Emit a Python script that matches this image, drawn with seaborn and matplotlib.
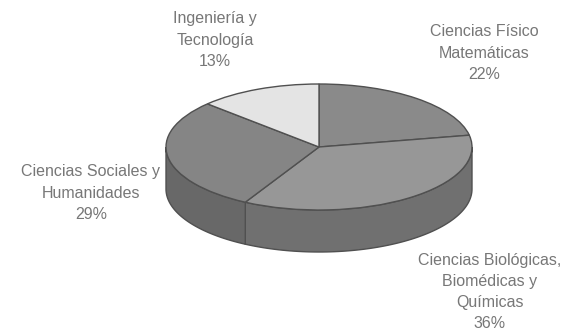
import numpy as np
import matplotlib
matplotlib.use("Agg")
import matplotlib.pyplot as plt
from matplotlib.patches import Polygon
from matplotlib.transforms import Affine2D
import seaborn as sns

# Distribution by area (percent), clockwise from 12 o'clock
categories = [
    "Ciencias Físico\nMatemáticas",
    "Ciencias Biológicas,\nBiomédicas y\nQuímicas",
    "Ciencias Sociales y\nHumanidades",
    "Ingeniería y\nTecnología",
]
values = [22, 36, 29, 13]

top_colors = ["#8a8a8a", "#979797", "#858585", "#e4e4e4"]
side_colors = ["#6e6e6e", "#707070", "#686868", "#b8b8b8"]
edge_color = "#505050"
text_color = "#777777"

# label anchor points (figure pixels, y downward)
label_pos = [(484, 53), (490, 292), (91, 193), (215, 40)]

sns.set_theme(style="white")
plt.rcParams["font.family"] = ["Liberation Sans", "DejaVu Sans"]

W, H = 569, 331
fig = plt.figure(figsize=(W / 100, H / 100), dpi=100)
ax = fig.add_axes([0, 0, 1, 1])

# pie geometry in pixel space
cx, cy = 319, H - 147
rx, ry = 153, 63
depth = 42

# top face: a regular pie squashed into an ellipse
wedges, _ = ax.pie(values, startangle=90, counterclock=False, center=(cx, cy),
                   radius=rx, colors=top_colors, frame=True,
                   wedgeprops=dict(edgecolor=edge_color, linewidth=1.0))
ax.set_xlim(0, W)
ax.set_ylim(0, H)
ax.set_aspect("auto")
ax.axis("off")
squash = Affine2D().translate(-cx, -cy).scale(1, ry / rx).translate(cx, cy)
for w in wedges:
    w.set_transform(squash + ax.transData)
    w.set_zorder(3)

# side walls: visible front half of each slice
fracs = np.array(values) / np.sum(values)
starts = 90 - 360 * np.concatenate([[0], np.cumsum(fracs)[:-1]])
ends = 90 - 360 * np.cumsum(fracs)
for a0, a1, col in zip(starts, ends, side_colors):
    for shift in (0, -360, 360):
        h, l = a0 + shift, a1 + shift
        seg_hi = min(h, 0)
        seg_lo = max(l, -180)
        if seg_hi > seg_lo:
            th = np.radians(np.linspace(seg_lo, seg_hi, 80))
            xt = cx + rx * np.cos(th)
            yt = cy + ry * np.sin(th)
            pts = np.concatenate([np.column_stack([xt, yt]),
                                  np.column_stack([xt[::-1], yt[::-1] - depth])])
            ax.add_patch(Polygon(pts, closed=True, facecolor=col,
                                 edgecolor=edge_color, linewidth=1.0, zorder=2))

for (x, y), cat, v in zip(label_pos, categories, values):
    ax.text(x, H - y, f"{cat}\n{v}%", ha="center", va="center",
            fontsize=11.5, color=text_color, linespacing=1.52)

fig.savefig("out.png", dpi=100, facecolor="white")
